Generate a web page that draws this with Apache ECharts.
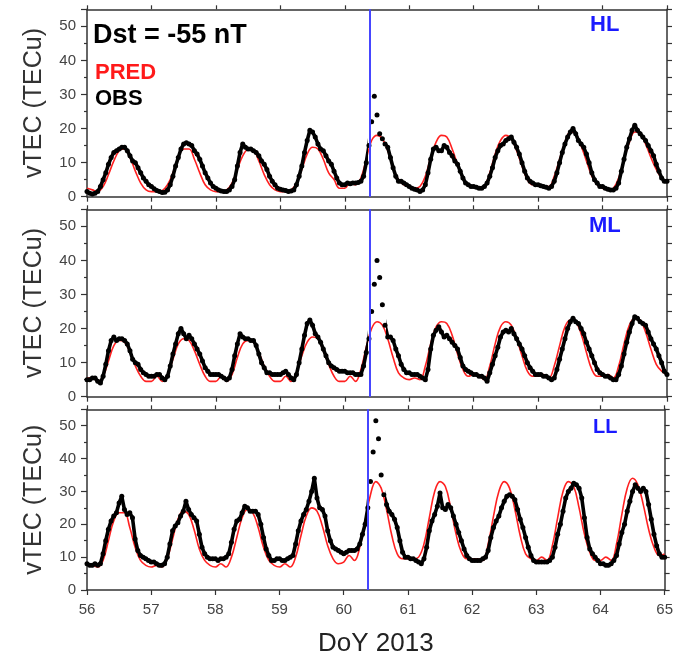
<!DOCTYPE html>
<html>
<head>
<meta charset="utf-8">
<script src="https://cdn.jsdelivr.net/npm/echarts@6/dist/echarts.min.js"></script>
<style>
  html, body { margin: 0; padding: 0; background: #fff; }
  #chart { width: 676px; height: 658px; }
</style>
</head>
<body>
<div id="chart"></div>
<script>
// x axis: day of year 2013, OBS hourly, PRED every 2 hours, both from day 56
const dayStart = 56;
const dayEnd = 65;
const stormOnset = 60.38;
const panelNames = ['HL', 'ML', 'LL'];

// high latitude
const hlObs = [
  1.5, 1.0, 0.8, 1.0, 1.5, 3.0, 5.0, 7.0, 9.5, 11.5, 13.0, 13.5, 14.0, 14.5, 14.5, 13.5, 12.0, 10.5, 10.0, 8.5, 7.0, 5.5, 4.5, 3.5,
  3.0, 2.3, 1.8, 1.5, 1.2, 1.3, 2.0, 3.5, 6.0, 9.0, 11.5, 14.0, 15.5, 15.8, 15.5, 15.0, 13.5, 12.5, 11.0, 9.0, 7.0, 5.5, 4.0, 3.0,
  2.5, 2.0, 1.7, 1.5, 1.5, 2.0, 3.0, 5.0, 9.0, 13.0, 15.5, 14.5, 14.0, 14.0, 13.5, 13.0, 12.0, 10.5, 9.5, 8.0, 6.0, 4.5, 3.5, 2.5,
  2.2, 2.0, 1.8, 1.5, 1.7, 2.0, 3.5, 6.0, 9.0, 13.0, 16.5, 19.5, 19.0, 17.5, 15.5, 14.0, 13.5, 12.0, 10.5, 9.5, 7.5, 5.5, 4.0, 3.5,
  3.5, 4.0, 3.8, 4.0, 4.0, 4.2, 4.5, 6.0, 10.0, 15.0, 22.0, 29.5, 24.0, 18.5, 17.0, 15.5, 14.5, 11.5, 8.5, 6.0, 4.5, 4.5, 4.0, 3.5,
  3.0, 2.5, 2.2, 2.0, 1.5, 2.0, 3.5, 7.0, 11.0, 14.0, 14.5, 13.5, 13.5, 15.0, 14.5, 13.0, 12.0, 10.5, 9.5, 7.5, 5.5, 4.0, 3.5, 3.0,
  3.0, 2.8, 2.5, 2.5, 3.0, 4.0, 6.0, 8.5, 11.5, 13.5, 15.0, 15.5, 16.5, 17.0, 17.5, 16.0, 14.5, 12.5, 10.0, 7.5, 5.5, 4.5, 4.0, 3.5,
  3.5, 3.2, 3.0, 2.8, 2.5, 3.0, 4.5, 7.0, 10.0, 13.0, 15.5, 17.5, 19.0, 20.0, 18.5, 16.5, 15.5, 14.5, 12.5, 10.0, 7.0, 5.0, 4.0, 3.0,
  3.0, 2.5, 2.2, 2.0, 2.0, 2.5, 4.0, 7.5, 11.0, 14.5, 17.0, 19.5, 21.0, 19.5, 18.5, 17.5, 16.5, 15.0, 13.5, 12.0, 9.5, 7.5, 5.5, 4.5,
  4.5
];
const hlPred = [
  2.5, 2.0, 1.5, 3.0, 6.5, 10.5, 13.5, 14.0, 11.5, 7.5, 4.0, 2.0,
  1.5, 1.5, 1.8, 3.5, 7.0, 11.5, 14.0, 14.0, 11.0, 7.0, 3.5, 2.0,
  1.5, 1.5, 2.0, 4.0, 8.0, 12.0, 13.8, 13.5, 10.5, 6.5, 3.5, 2.0,
  1.5, 1.5, 2.0, 4.0, 8.0, 12.5, 14.5, 14.0, 11.0, 7.0, 5.0, 2.5,
  2.5, 4.0, 3.5, 5.5, 11.0, 16.5, 18.0, 17.0, 13.5, 8.5, 5.0, 3.5,
  3.0, 2.5, 3.0, 6.0, 11.5, 16.0, 18.0, 17.5, 14.0, 9.5, 5.5, 3.5,
  3.0, 2.5, 3.0, 7.0, 12.5, 16.5, 18.0, 17.0, 13.5, 9.0, 5.0, 3.5,
  3.5, 3.0, 3.0, 6.0, 11.0, 16.0, 19.0, 18.5, 15.0, 10.5, 6.0, 3.5,
  2.5, 2.0, 2.5, 5.5, 11.0, 16.0, 19.0, 18.5, 15.5, 11.5, 8.0, 5.5,
  4.5
];

// mid latitude
const mlObs = [
  5.0, 5.0, 5.5, 5.5, 4.5, 4.0, 6.0, 9.5, 13.5, 16.5, 17.5, 16.5, 17.0, 17.0, 16.5, 15.5, 13.5, 11.0, 10.0, 9.5, 8.0, 7.0, 6.5, 6.0,
  6.0, 6.0, 6.5, 6.5, 5.5, 5.0, 6.0, 9.0, 12.5, 15.5, 18.5, 20.0, 18.5, 17.0, 18.0, 17.0, 15.5, 14.0, 12.5, 10.5, 8.5, 7.5, 6.5, 6.5,
  6.5, 6.5, 6.0, 5.5, 5.0, 5.5, 8.0, 12.0, 15.5, 18.5, 17.5, 17.0, 17.0, 16.5, 16.5, 15.0, 12.5, 10.0, 8.5, 7.0, 7.0, 6.5, 6.5, 6.5,
  6.5, 7.0, 7.5, 6.5, 5.5, 5.0, 6.5, 10.0, 14.0, 18.0, 21.5, 22.5, 21.0, 18.5, 17.5, 16.0, 14.0, 12.0, 10.0, 9.0, 8.5, 8.0, 7.5, 7.5,
  7.5, 7.0, 7.0, 7.0, 6.5, 6.5, 6.5, 9.0, 13.0, 17.0, 25.0, 33.0, 40.0, 35.0, 27.0, 21.0, 17.5, 17.5, 16.5, 14.0, 12.0, 9.5, 8.0, 7.0,
  7.0, 6.5, 6.5, 6.5, 6.0, 5.5, 5.0, 8.0, 14.0, 18.0, 19.5, 20.5, 19.0, 17.5, 18.0, 17.0, 16.0, 15.0, 14.0, 11.5, 9.0, 8.0, 7.5, 7.0,
  6.5, 6.5, 6.0, 6.0, 5.5, 4.5, 7.0, 9.5, 12.0, 14.5, 17.5, 19.0, 19.5, 19.0, 20.0, 18.5, 17.0, 15.5, 14.0, 12.0, 10.0, 8.5, 7.5, 6.5,
  6.5, 6.5, 6.0, 6.0, 5.5, 5.0, 5.5, 8.0, 11.0, 14.0, 17.0, 20.0, 22.0, 23.0, 22.0, 21.5, 20.0, 18.5, 16.0, 14.0, 12.0, 10.0, 8.0, 7.0,
  6.5, 6.0, 6.0, 5.5, 5.0, 5.0, 6.5, 9.0, 12.5, 16.0, 19.0, 21.5, 23.5, 23.0, 22.0, 21.5, 21.0, 19.0, 17.0, 15.5, 14.0, 12.0, 10.0, 7.5,
  6.5
];
const mlPred = [
  5.5, 5.5, 4.5, 6.0, 10.5, 15.0, 16.5, 16.0, 13.0, 9.0, 6.0, 4.5,
  4.5, 6.0, 4.5, 6.5, 11.0, 15.5, 17.0, 16.5, 13.5, 9.5, 6.0, 4.5,
  4.5, 6.0, 4.5, 6.5, 11.5, 15.5, 16.5, 16.0, 13.0, 9.0, 6.0, 4.5,
  4.5, 6.0, 4.5, 7.0, 12.0, 16.0, 17.5, 17.0, 13.5, 9.5, 6.0, 4.5,
  4.5, 6.0, 4.5, 8.0, 14.5, 20.0, 22.0, 21.0, 17.0, 11.5, 7.0, 5.5,
  5.0, 5.5, 5.0, 9.0, 15.5, 20.5, 22.0, 21.5, 18.0, 12.5, 8.0, 6.0,
  6.5, 6.0, 5.0, 9.0, 15.5, 20.5, 22.0, 21.0, 17.0, 12.0, 7.5, 6.0,
  6.0, 6.5, 5.5, 9.0, 15.0, 20.5, 22.5, 22.0, 18.5, 13.0, 8.0, 6.0,
  6.0, 6.5, 5.5, 9.0, 15.5, 21.0, 23.0, 22.5, 19.0, 14.0, 9.5, 7.5,
  6.5
];

// low latitude
const llObs = [
  8.0, 7.5, 7.5, 8.0, 7.5, 8.0, 11.0, 15.0, 18.5, 21.0, 22.5, 23.5, 26.5, 28.5, 24.5, 23.0, 23.5, 22.0, 15.5, 12.0, 10.5, 10.0, 9.5, 9.0,
  8.5, 8.5, 8.0, 7.5, 7.5, 8.0, 10.0, 14.0, 18.0, 19.5, 20.5, 22.5, 24.0, 27.0, 24.5, 23.0, 22.0, 21.0, 17.0, 13.0, 11.0, 10.0, 9.5, 9.5,
  9.5, 9.0, 9.5, 9.5, 10.0, 11.0, 14.5, 18.5, 21.0, 21.5, 23.5, 25.5, 25.0, 24.0, 24.0, 24.0, 23.0, 20.0, 16.0, 12.5, 10.5, 9.0, 9.0, 9.5,
  9.5, 9.0, 9.0, 9.5, 10.0, 10.5, 14.0, 18.0, 21.0, 23.0, 24.5, 27.0, 30.0, 34.0, 28.0, 25.0, 24.5, 22.5, 18.0, 15.0, 13.0, 12.5, 12.0, 11.5,
  11.0, 11.5, 12.0, 12.0, 12.0, 12.5, 14.0, 17.0, 20.0, 25.0, 33.0, 42.0, 51.5, 46.0, 35.0, 29.0, 26.0, 24.0, 23.0, 21.5, 19.0, 15.0, 11.5, 10.0,
  10.0, 9.5, 9.5, 9.0, 8.5, 8.0, 9.5, 13.0, 18.0, 21.0, 23.0, 25.5, 29.5, 25.0, 24.5, 26.0, 25.0, 22.5, 20.0, 17.5, 15.0, 12.5, 10.5, 9.5,
  9.0, 9.0, 9.0, 9.0, 9.5, 10.0, 12.0, 16.0, 19.0, 21.0, 22.5, 25.0, 27.0, 28.5, 29.0, 28.5, 27.5, 24.5, 21.5, 19.0, 16.0, 13.0, 10.5, 9.0,
  8.5, 8.5, 8.5, 8.5, 8.5, 9.0, 10.0, 13.0, 17.0, 20.0, 24.0, 28.0, 30.0, 31.0, 32.5, 32.0, 31.0, 28.0, 22.0, 16.0, 12.5, 11.0, 10.0, 9.0,
  8.0, 8.0, 7.5, 7.5, 8.0, 9.0, 10.5, 14.0, 17.5, 20.0, 24.0, 27.0, 30.0, 32.0, 31.0, 30.0, 31.0, 30.0, 26.0, 21.5, 17.0, 13.5, 11.0, 10.0,
  10.0
];
const llPred = [
  8.0, 7.5, 7.0, 9.0, 15.0, 21.0, 23.5, 23.5, 19.0, 13.0, 9.0, 7.5,
  7.0, 7.5, 7.0, 9.5, 15.5, 21.5, 24.0, 23.0, 18.5, 12.5, 9.0, 7.5,
  7.0, 8.0, 7.0, 10.0, 16.0, 22.0, 24.5, 23.5, 19.0, 13.0, 9.0, 7.5,
  7.0, 8.0, 7.0, 10.0, 16.5, 22.5, 25.0, 24.0, 19.5, 13.5, 9.5, 8.0,
  8.5, 10.5, 9.0, 13.0, 21.0, 29.0, 33.0, 31.0, 24.5, 16.5, 11.0, 9.5,
  9.5, 9.5, 10.0, 14.0, 22.0, 30.0, 33.0, 31.5, 25.0, 17.0, 11.5, 9.5,
  9.5, 9.5, 9.0, 14.0, 22.5, 30.0, 33.0, 31.0, 24.5, 16.5, 11.0, 9.5,
  9.0, 10.0, 9.0, 13.5, 22.0, 30.0, 33.0, 31.5, 25.0, 17.0, 11.5, 9.0,
  9.0, 10.0, 9.0, 14.0, 23.0, 31.0, 34.0, 32.0, 26.0, 18.5, 13.0, 10.5,
  11.0
];

const obsSets = [hlObs, mlObs, llObs];
const predSets = [hlPred, mlPred, llPred];

const FONT = '"Liberation Sans", Arial, Helvetica, sans-serif';
const AXIS_COLOR = '#333';
const panelTops = [9.3, 209.3, 409.3];
const panelHeight = 187.4;

const chart = echarts.init(document.getElementById('chart'), null, { renderer: 'canvas' });

const grid = [];
const xAxis = [];
const yAxis = [];
const series = [];
const bandSeries = [];

panelTops.forEach((top, p) => {
  grid.push({ left: 87, top: top, width: 580, height: panelHeight });

  const lineStyle = { color: AXIS_COLOR, width: 1.5 };
  // bottom x axis
  xAxis.push({
    type: 'value', gridIndex: p, min: dayStart, max: dayEnd, interval: 1, position: 'bottom',
    axisLine: { show: true, onZero: false, lineStyle },
    axisTick: { show: true, length: 5, lineStyle: { color: AXIS_COLOR, width: 1.2 } },
    axisLabel: { show: p === 2, fontSize: 15, color: '#444', margin: 12, fontFamily: FONT },
    splitLine: { show: false },
    name: p === 2 ? 'DoY 2013' : '',
    nameLocation: 'middle', nameGap: 41,
    nameTextStyle: { fontSize: 26, color: '#222', fontFamily: FONT }
  });
  // top x axis, ticks only
  xAxis.push({
    type: 'value', gridIndex: p, min: dayStart, max: dayEnd, interval: 1, position: 'top',
    axisLine: { show: true, onZero: false, lineStyle },
    axisTick: { show: true, length: 4, lineStyle: { color: AXIS_COLOR, width: 1.2 } },
    axisLabel: { show: false },
    splitLine: { show: false }
  });
  // left y axis
  yAxis.push({
    type: 'value', gridIndex: p, min: 0, max: 55, interval: 10, position: 'left',
    axisLine: { show: true, onZero: false, lineStyle },
    axisTick: { show: true, length: 6, lineStyle: { color: AXIS_COLOR, width: 1.2 } },
    minorTick: { show: true, splitNumber: 2, length: 3, lineStyle: { color: AXIS_COLOR, width: 1.2 } },
    axisLabel: { fontSize: 15, color: '#444', margin: 11, fontFamily: FONT, showMaxLabel: false },
    splitLine: { show: false },
    name: 'vTEC (TECu)', nameLocation: 'middle', nameGap: 40,
    nameTextStyle: { fontSize: 25, color: '#333', fontFamily: FONT }
  });
  // right y axis, ticks only
  yAxis.push({
    type: 'value', gridIndex: p, min: 0, max: 55, interval: 5, position: 'right',
    axisLine: { show: true, onZero: false, lineStyle },
    axisTick: { show: true, length: 5, lineStyle: { color: AXIS_COLOR, width: 1.2 } },
    axisLabel: { show: false },
    splitLine: { show: false }
  });

  const obsData = obsSets[p].map((v, i) => [dayStart + i / 24, v]);
  series.push({
    name: 'PRED ' + panelNames[p],
    type: 'line',
    xAxisIndex: 2 * p, yAxisIndex: 2 * p,
    smooth: 0.4,
    showSymbol: false,
    lineStyle: { color: '#ff2020', width: 1.6 },
    silent: true,
    z: 1,
    data: predSets[p].map((v, i) => [dayStart + i / 12, v]),
    markLine: {
      silent: true,
      symbol: ['none', 'none'],
      label: { show: false },
      lineStyle: { color: '#4646ff', width: 2, type: 'solid' },
      data: [{ xAxis: stormOnset }]
    }
  });
  // band joining the OBS samples (left out around the storm spike, where the dots stand apart)
  bandSeries.push(series.length);
  series.push({
    name: 'OBS band ' + panelNames[p],
    type: 'line',
    xAxisIndex: 2 * p, yAxisIndex: 2 * p,
    showSymbol: false,
    lineStyle: { width: 3.6 },
    silent: true,
    z: 2,
    data: obsData
  });
  series.push({
    name: 'OBS ' + panelNames[p],
    type: 'scatter',
    xAxisIndex: 2 * p, yAxisIndex: 2 * p,
    symbolSize: 5,
    itemStyle: { color: '#000', opacity: 1 },
    silent: true,
    z: 3,
    data: obsData
  });
});

const textEl = (text, left, top, size, color) => ({
  type: 'text', left, top, z: 10,
  style: { text, fill: color, font: 'bold ' + size + 'px ' + FONT }
});

chart.setOption({
  animation: false,
  backgroundColor: '#fff',
  grid, xAxis, yAxis, series,
  visualMap: {
    type: 'piecewise', show: false, dimension: 0, seriesIndex: bandSeries,
    pieces: [
      { lt: 60.36, color: '#000' },
      { gte: 60.36, lte: 60.64, color: 'rgba(0,0,0,0)' },
      { gt: 60.64, color: '#000' }
    ]
  },
  graphic: [
    textEl('Dst = -55 nT', 93, 22, 27, '#000'),
    textEl('PRED', 95, 62, 22, '#ff1a1a'),
    textEl('OBS', 95, 88, 22, '#000'),
    textEl('HL', 590, 14, 22, '#1a1aff'),
    textEl('ML', 589, 215, 22, '#1a1aff'),
    textEl('LL', 593, 417, 20, '#1a1aff')
  ]
});
</script>
</body>
</html>
